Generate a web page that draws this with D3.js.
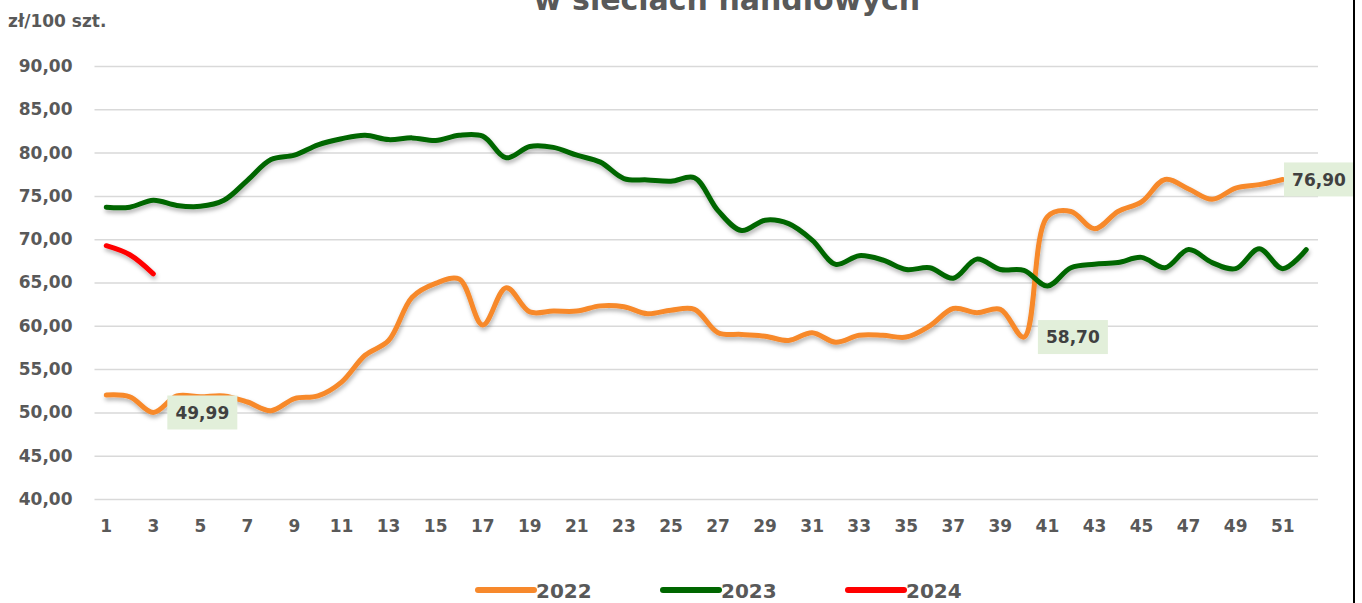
<!DOCTYPE html>
<html>
<head>
<meta charset="utf-8">
<script src="https://cdn.jsdelivr.net/npm/d3@7"></script>
<style>
    body { margin: 0; background: #fff; }
    svg text { font-family: "DejaVu Sans", sans-serif; font-weight: bold; }
</style>
</head>
<body>
<div id="chart"></div>
<script>
// weekly prices, zł/100 szt.
var weeks = d3.range(1, 53);
var values2022 = [52.0, 51.8, 49.99, 51.9, 51.8, 51.9, 51.2, 50.2, 51.6, 51.9,
    53.5, 56.6, 58.3, 63.3, 64.9, 65.4, 60.1, 64.4, 61.6, 61.7,
    61.7, 62.3, 62.2, 61.4, 61.8, 61.9, 59.2, 59.0, 58.8, 58.3,
    59.2, 58.1, 58.9, 58.9, 58.7, 60.0, 62.0, 61.5, 61.9, 58.70,
    72.6, 73.2, 71.2, 73.2, 74.3, 76.9, 75.8, 74.6, 75.9, 76.3, 76.90];
var values2023 = [73.7, 73.7, 74.5, 73.9, 73.8, 74.5, 76.8, 79.2, 79.7, 80.9,
    81.6, 82.0, 81.5, 81.7, 81.4, 82.0, 81.9, 79.4, 80.7, 80.6,
    79.7, 78.9, 77.0, 76.85, 76.7, 77.1, 73.3, 71.0, 72.2, 71.8,
    69.9, 67.1, 68.1, 67.6, 66.5, 66.7, 65.5, 67.7, 66.5, 66.4,
    64.6, 66.7, 67.1, 67.3, 67.9, 66.7, 68.8, 67.3, 66.6, 68.9, 66.6, 68.8];
var values2024 = [69.25, 68.2, 66.0];

var seriesNames = ["2022", "2023", "2024"];
var seriesColors = ["#F7892C", "#006600", "#FF0000"];
var yTicks = [40, 45, 50, 55, 60, 65, 70, 75, 80, 85, 90];
var xTicks = d3.range(1, 53, 2);
// weeks of 2022 that carry a value label
var labelWeeks2022 = [3, 40, 51];

var titleText = "w sieciach handlowych";
var unitText = "zł/100 szt.";

var width = 1362, height = 603;
var margin = { top: 66, right: 44, bottom: 104, left: 94.5 };
var plotRight = width - margin.right;

var svg = d3.select("#chart").append("svg")
    .attr("width", width)
    .attr("height", height);

var defs = svg.append("defs");
defs.append("filter")
    .attr("id", "shadow")
    .attr("filterUnits", "userSpaceOnUse")
    .attr("x", 0).attr("y", 0)
    .attr("width", width).attr("height", height)
    .append("feDropShadow")
    .attr("dx", 1).attr("dy", 3)
    .attr("stdDeviation", 2)
    .attr("flood-color", "#000")
    .attr("flood-opacity", 0.3);

var x = d3.scaleBand()
    .domain(weeks)
    .range([margin.left, plotRight]);

var y = d3.scaleLinear()
    .domain([40, 90])
    .range([height - margin.bottom, margin.top]);

var cx = w => x(w) + x.bandwidth() / 2;
var commaFormat = v => d3.format(".2f")(v).replace(".", ",");

// title (first line is above the picture)
svg.append("text")
    .attr("x", 727)
    .attr("y", 10)
    .attr("text-anchor", "middle")
    .style("font-size", "30px")
    .attr("fill", "#595959")
    .text(titleText);

svg.append("text")
    .attr("x", 8)
    .attr("y", 27)
    .style("font-size", "17px")
    .attr("fill", "#595959")
    .text(unitText);

// y axis + gridlines
var gy = svg.append("g")
    .attr("transform", `translate(${margin.left},0)`)
    .call(d3.axisLeft(y)
        .tickValues(yTicks)
        .tickSizeInner(-(plotRight - margin.left))
        .tickSizeOuter(0)
        .tickPadding(22)
        .tickFormat(d => commaFormat(d)));
gy.select(".domain").remove();
gy.selectAll(".tick line")
    .attr("stroke", "#d9d9d9")
    .attr("stroke-width", 1.5);
gy.selectAll("text")
    .attr("fill", "#595959")
    .style("font-family", "DejaVu Sans, sans-serif")
    .style("font-size", "17px");

// x axis
var gx = svg.append("g")
    .attr("transform", `translate(0,${height - margin.bottom})`)
    .call(d3.axisBottom(x)
        .tickValues(xTicks)
        .tickSize(0)
        .tickPadding(21));
gx.select(".domain").remove();
gx.selectAll("text")
    .attr("fill", "#595959")
    .style("font-family", "DejaVu Sans, sans-serif")
    .style("font-size", "17px");

// lines
var line = d3.line()
    .x((d, i) => cx(weeks[i]))
    .y(d => y(d))
    .curve(d3.curveCatmullRom.alpha(0.5));

var series = [values2022, values2023, values2024];

svg.append("g")
    .attr("filter", "url(#shadow)")
    .selectAll("path")
    .data(series)
    .enter()
    .append("path")
    .attr("fill", "none")
    .attr("stroke", (d, i) => seriesColors[i])
    .attr("stroke-width", 5)
    .attr("stroke-linecap", "round")
    .attr("stroke-linejoin", "round")
    .attr("d", line);

// data labels
var boxW = 70, boxH = 34;
var labels = svg.append("g")
    .selectAll("g")
    .data(labelWeeks2022)
    .enter()
    .append("g")
    .attr("transform", function (w) {
        var left = Math.min(cx(w) + 14, 1354 - boxW);
        return `translate(${left},${y(values2022[w - 1]) - boxH / 2})`;
    });
labels.append("rect")
    .attr("width", boxW)
    .attr("height", boxH)
    .attr("fill", "#E2EFDA");
labels.append("text")
    .attr("x", boxW / 2)
    .attr("y", boxH / 2)
    .attr("dy", "0.36em")
    .attr("text-anchor", "middle")
    .attr("fill", "#404040")
    .style("font-size", "17px")
    .text(w => commaFormat(values2022[w - 1]));

// legend
var legend = svg.append("g")
    .attr("transform", "translate(478,590)")
    .selectAll("g")
    .data(seriesNames)
    .enter()
    .append("g")
    .attr("transform", (d, i) => `translate(${i * 185},0)`);
legend.append("line")
    .attr("x1", 0).attr("x2", 56)
    .attr("stroke", (d, i) => seriesColors[i])
    .attr("stroke-width", 6)
    .attr("stroke-linecap", "round");
legend.append("text")
    .attr("x", 58)
    .attr("y", 8)
    .attr("fill", "#595959")
    .style("font-size", "20px")
    .text(d => d);

// right frame edge
svg.append("line")
    .attr("x1", 1354).attr("x2", 1354)
    .attr("y1", 0).attr("y2", height)
    .attr("stroke", "#000")
    .attr("stroke-width", 2);
</script>
</body>
</html>
